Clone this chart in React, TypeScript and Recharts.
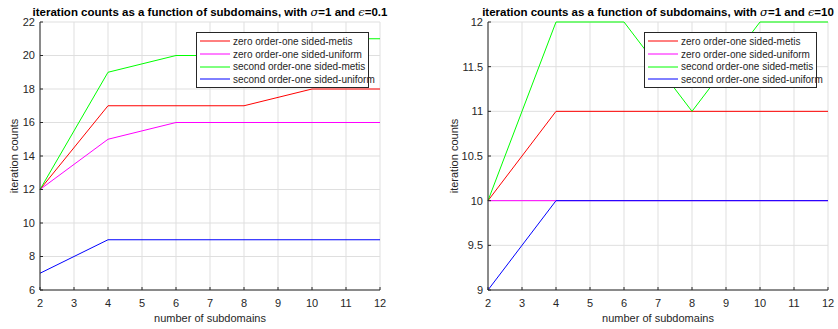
import { LineChart, Line, XAxis, YAxis, CartesianGrid, Legend } from 'recharts'

const subdomains = [2, 4, 6, 8, 10, 12]
const xTicks = [2, 3, 4, 5, 6, 7, 8, 9, 10, 11, 12]

const seriesNames = [
  'zero order-one sided-metis',
  'zero order-one sided-uniform',
  'second order-one sided-metis',
  'second order-one sided-uniform',
]
const seriesColors = ['#ff0000', '#ff00ff', '#00ff00', '#0000ff']

// epsilon = 0.1
const eps01ZeroMetis = [12, 17, 17, 17, 18, 18]
const eps01ZeroUniform = [12, 15, 16, 16, 16, 16]
const eps01SecondMetis = [12, 19, 20, 20, 21, 21]
const eps01SecondUniform = [7, 9, 9, 9, 9, 9]
const eps01YTicks = [6, 8, 10, 12, 14, 16, 18, 20, 22]

// epsilon = 10
const eps10ZeroMetis = [10, 11, 11, 11, 11, 11]
const eps10ZeroUniform = [10, 10, 10, 10, 10, 10]
const eps10SecondMetis = [10, 12, 12, 11, 12, 12]
const eps10SecondUniform = [9, 10, 10, 10, 10, 10]
const eps10YTicks = [9, 9.5, 10, 10.5, 11, 11.5, 12]

const FONT = '"Liberation Sans", Arial, Helvetica, sans-serif'
const INK = '#262626'
const W = 419
const H = 329

function buildRows(series: number[][]) {
  return subdomains.map((x, i) => {
    const row: Record<string, number> = { x }
    series.forEach((s, k) => { row['s' + k] = s[i] })
    return row
  })
}

function LegendBox({ payload }: any) {
  // keep plotting order, not alphabetical
  const items = [...(payload || [])].sort(
    (a: any, b: any) => seriesNames.indexOf(a.value) - seriesNames.indexOf(b.value),
  )
  return (
    <div style={{
      background: '#fff', border: `1px solid ${INK}`, width: 168, padding: '2px 0 1px 3px',
      fontFamily: FONT, fontSize: 10, color: INK, boxSizing: 'content-box',
    }}>
      {items.map((p: any) => (
        <div key={p.value} style={{ display: 'flex', alignItems: 'center', height: 12.7 }}>
          <svg width={33} height={4} style={{ flex: 'none' }}>
            <line x1={0} y1={2} x2={30} y2={2} stroke={p.color} strokeWidth={1} />
          </svg>
          <span style={{ whiteSpace: 'nowrap' }}>{p.value}</span>
        </div>
      ))}
    </div>
  )
}

interface PanelProps {
  left: number
  title: React.ReactNode
  series: number[][]
  yTicks: number[]
  yWidth: number
  rightMargin: number
  yLabelX: number
  legendLeft: number
}

function Panel({ left, title, series, yTicks, yWidth, rightMargin, yLabelX, legendLeft }: PanelProps) {
  const data = buildRows(series)
  const yDomain = [yTicks[0], yTicks[yTicks.length - 1]]
  const plotCenter = yWidth + (W - yWidth - rightMargin) / 2
  const tickStyle = { fontSize: 11, fill: INK, fontFamily: FONT }
  return (
    <div style={{ position: 'absolute', left, top: 0, width: W, height: H }}>
      <div style={{
        position: 'absolute', top: 5, left: plotCenter, transform: 'translateX(-50%)',
        whiteSpace: 'nowrap', fontFamily: FONT, fontWeight: 'bold', fontSize: 11.5, color: '#000', zIndex: 2,
      }}>
        {title}
      </div>
      <LineChart width={W} height={H} data={data} margin={{ top: 22, right: rightMargin, bottom: 0, left: 0 }}>
        <CartesianGrid stroke="#dfdfdf" strokeWidth={1} />
        <XAxis
          dataKey="x" type="number" domain={[2, 12]} ticks={xTicks} height={39}
          tick={tickStyle} tickSize={-3} tickMargin={12} stroke={INK} tickLine={{ stroke: INK }}
          axisLine={{ stroke: INK }}
          label={(p: any) => (
            <text x={p.viewBox.x + p.viewBox.width / 2} y={p.viewBox.y + 32} textAnchor="middle"
              fontSize={11} fill={INK} fontFamily={FONT}>number of subdomains</text>
          )}
        />
        <XAxis
          xAxisId="top" orientation="top" dataKey="x" type="number" domain={[2, 12]} ticks={xTicks}
          height={0} mirror tick={false} tickSize={3} axisLine={{ stroke: INK }} tickLine={{ stroke: INK }}
        />
        <YAxis
          type="number" domain={yDomain} ticks={yTicks} width={yWidth} interval={0}
          tick={tickStyle} tickSize={-3} tickMargin={8} axisLine={{ stroke: INK }} tickLine={{ stroke: INK }}
          label={(p: any) => {
            const cx = yLabelX
            const cy = p.viewBox.y + p.viewBox.height / 2
            return (
              <text x={cx} y={cy} transform={`rotate(-90 ${cx} ${cy})`} textAnchor="middle"
                dominantBaseline="central" fontSize={11} fill={INK} fontFamily={FONT}>iteration counts</text>
            )
          }}
        />
        <YAxis
          yAxisId="right" orientation="right" type="number" domain={yDomain} ticks={yTicks} width={0}
          mirror tick={false} tickSize={3} axisLine={{ stroke: INK }} tickLine={{ stroke: INK }}
        />
        <Legend
          layout="vertical" align="center" verticalAlign="middle"
          wrapperStyle={{ left: legendLeft, top: 32, width: 'auto' }}
          content={<LegendBox />}
        />
        {series.map((_, k) => (
          <Line key={k} type="linear" dataKey={'s' + k} name={seriesNames[k]} stroke={seriesColors[k]}
            strokeWidth={1} dot={false} activeDot={false} isAnimationActive={false} />
        ))}
      </LineChart>
    </div>
  )
}

const sym = { fontFamily: '"DejaVu Serif", "Liberation Serif", serif', fontStyle: 'italic', fontWeight: 'normal' as const }

export default function App() {
  return (
    <div style={{ position: 'absolute', left: 0, top: 0, width: 838, height: 329, background: '#fff' }}>
      <Panel
        left={0}
        title={<>iteration counts as a function of subdomains, with <span style={sym}>σ</span>=1 and <span style={sym}>ϵ</span>=0.1</>}
        series={[eps01ZeroMetis, eps01ZeroUniform, eps01SecondMetis, eps01SecondUniform]}
        yTicks={eps01YTicks}
        yWidth={40}
        rightMargin={39}
        yLabelX={14}
        legendLeft={196}
      />
      <Panel
        left={419}
        title={<>iteration counts as a function of subdomains, with <span style={sym}>σ</span>=1 and <span style={sym}>ϵ</span>=10</>}
        series={[eps10ZeroMetis, eps10ZeroUniform, eps10SecondMetis, eps10SecondUniform]}
        yTicks={eps10YTicks}
        yWidth={69}
        rightMargin={10}
        yLabelX={35}
        legendLeft={225}
      />
    </div>
  )
}
